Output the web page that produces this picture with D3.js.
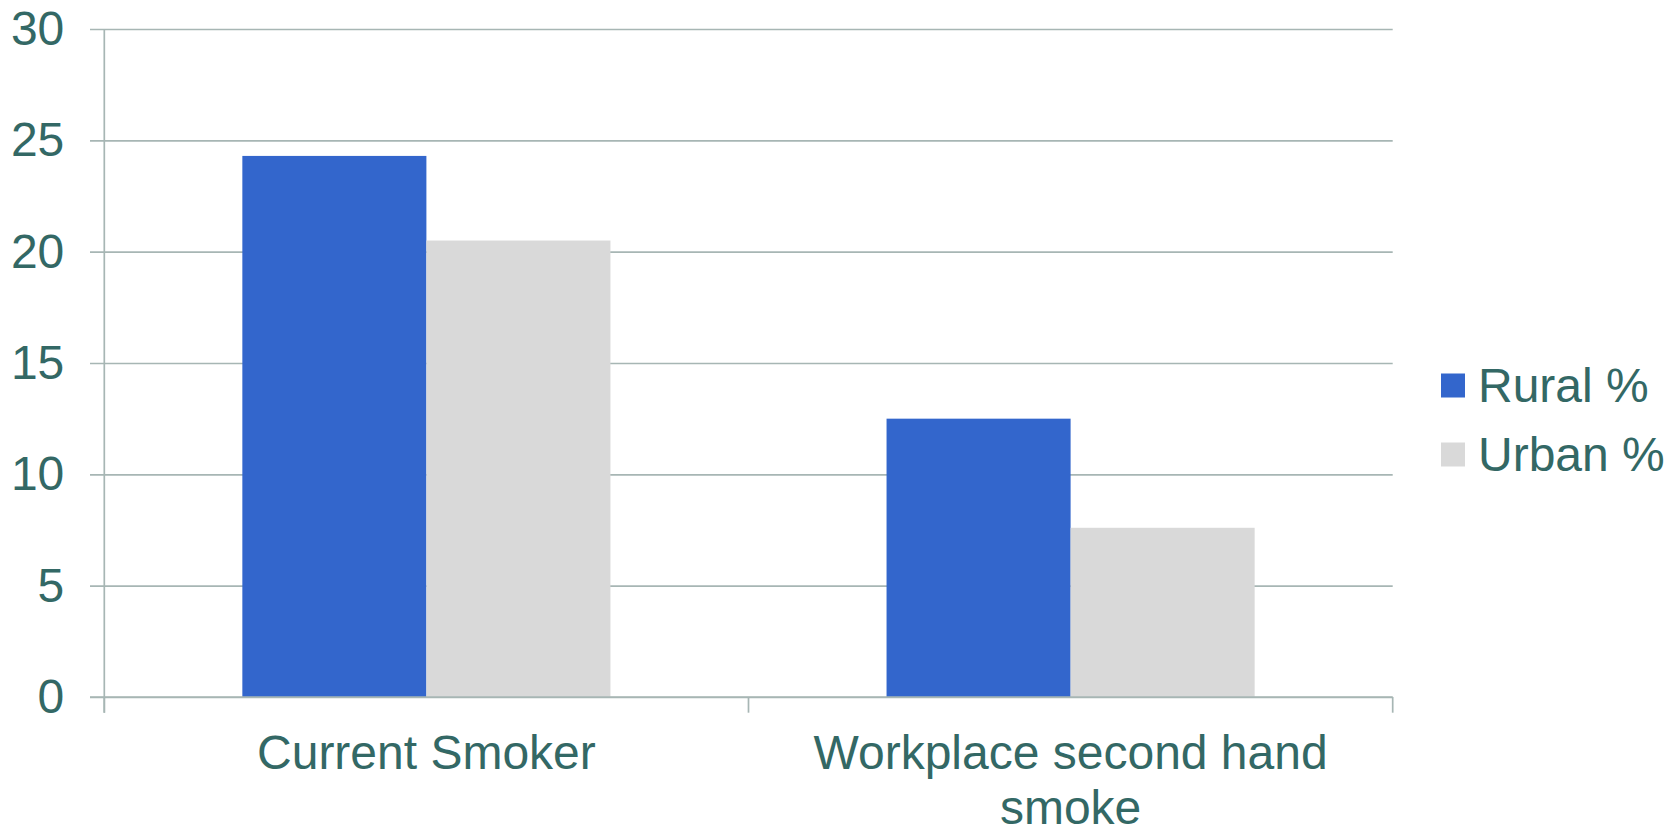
<!DOCTYPE html>
<html>
<head>
<meta charset="utf-8">
<script src="https://cdn.jsdelivr.net/npm/d3@7"></script>
<style>
  html, body { margin: 0; padding: 0; background: #ffffff; }
  svg { display: block; }
  text { font-family: "Liberation Sans", Arial, Helvetica, sans-serif; fill: #336865; }
</style>
</head>
<body>
<svg id="chart" width="1676" height="829"></svg>
<script>
// Smoking prevalence by residence
const categories = ["Current Smoker", "Workplace second hand smoke"];
const seriesNames = ["Rural %", "Urban %"];
const rural = [24.3, 12.5];
const urban = [20.5, 7.6];
const seriesColors = ["#3366CC", "#D9D9D9"];
const yTicks = [0, 5, 10, 15, 20, 25, 30];

const svg = d3.select("#chart");
const plot = { left: 104.3, right: 1392.7, top: 29, bottom: 697 };
const lineColor = "#a7b6b4";
const textColor = "#336865";
const fontSize = 48;

const y = d3.scaleLinear().domain([0, 30]).range([plot.bottom, plot.top]);
const x0 = d3.scaleBand().domain(categories).range([plot.left, plot.right]).paddingInner(0).paddingOuter(0);
const x1 = d3.scaleBand().domain(seriesNames).range([0, x0.bandwidth()]).paddingInner(0).paddingOuter(0.75);

const rows = categories.map((c, i) => ({ category: c, values: [rural[i], urban[i]] }));

// Horizontal gridlines with left tick stubs and value labels
const yAxis = d3.axisLeft(y)
  .tickValues(yTicks)
  .tickSizeInner(-(plot.right - plot.left))
  .tickSizeOuter(0)
  .tickPadding(40)
  .tickFormat(d3.format("d"));

const gy = svg.append("g")
  .attr("transform", `translate(${plot.left},0)`)
  .call(yAxis);
gy.select(".domain").remove();
gy.selectAll(".tick line")
  .attr("x1", -14.3)
  .attr("stroke", lineColor)
  .attr("stroke-width", 1.7);
gy.selectAll(".tick text")
  .attr("dy", null)
  .attr("y", 15.5)
  .style("font-size", fontSize + "px")
  .style("font-family", '"Liberation Sans", Arial, sans-serif')
  .attr("fill", textColor);

// Bars
const groups = svg.append("g").selectAll("g")
  .data(rows)
  .join("g")
  .attr("transform", d => `translate(${x0(d.category)},0)`);

groups.selectAll("rect")
  .data(d => d.values.map((v, j) => ({ key: seriesNames[j], value: v, color: seriesColors[j] })))
  .join("rect")
  .attr("x", d => x1(d.key))
  .attr("width", x1.bandwidth())
  .attr("y", d => y(d.value))
  .attr("height", d => y(0) - y(d.value))
  .attr("fill", d => d.color);

// Vertical axis line
svg.append("line")
  .attr("x1", plot.left).attr("x2", plot.left)
  .attr("y1", plot.top).attr("y2", plot.bottom + 15.7)
  .attr("stroke", lineColor).attr("stroke-width", 1.7);

// Baseline and category boundary ticks
svg.append("line")
  .attr("x1", plot.left - 14.3).attr("x2", plot.right)
  .attr("y1", y(0)).attr("y2", y(0))
  .attr("stroke", lineColor).attr("stroke-width", 1.7);

const boundaries = [x0.range()[0]].concat(categories.map(c => x0(c) + x0.bandwidth()));
svg.append("g").selectAll("line")
  .data(boundaries)
  .join("line")
  .attr("x1", d => d).attr("x2", d => d)
  .attr("y1", y(0)).attr("y2", y(0) + 15.7)
  .attr("stroke", lineColor).attr("stroke-width", 1.7);

// Category labels, wrapped to the band width
svg.append("g").selectAll("text")
  .data(categories)
  .join("text")
  .attr("x", d => x0(d) + x0.bandwidth() / 2)
  .attr("y", 769)
  .attr("text-anchor", "middle")
  .style("font-size", fontSize + "px")
  .attr("fill", textColor)
  .each(function(d) {
    const el = d3.select(this);
    const cx = +el.attr("x");
    const maxW = x0.bandwidth() * 0.95;
    const words = d.split(" ");
    let line = [];
    let tspan = el.append("tspan").attr("x", cx).attr("dy", 0);
    words.forEach(w => {
      line.push(w);
      tspan.text(line.join(" "));
      if (tspan.node().getComputedTextLength() > maxW && line.length > 1) {
        line.pop();
        tspan.text(line.join(" "));
        line = [w];
        tspan = el.append("tspan").attr("x", cx).attr("dy", 55).text(w);
      }
    });
  });

// Legend
const legend = svg.append("g").selectAll("g")
  .data(seriesNames)
  .join("g")
  .attr("transform", (d, i) => `translate(1441,${385.5 + i * 69})`);

legend.append("rect")
  .attr("x", 0).attr("y", -12)
  .attr("width", 24).attr("height", 24)
  .attr("fill", (d, i) => seriesColors[i]);

legend.append("text")
  .attr("x", 37)
  .attr("y", 16)
  .style("font-size", fontSize + "px")
  .attr("fill", textColor)
  .text(d => d);
</script>
</body>
</html>
